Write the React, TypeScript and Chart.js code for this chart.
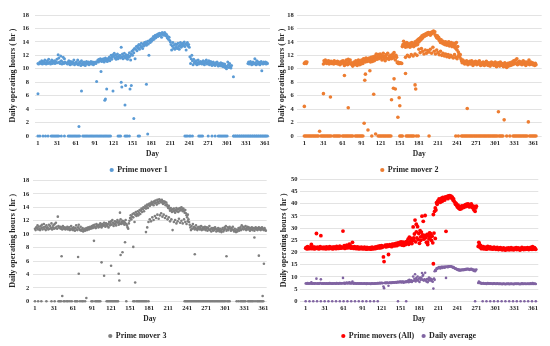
import React, { useEffect, useRef } from "react";
import { Chart, registerables } from "chart.js";

Chart.register(...registerables);

const _ = null;
const FONT = "'Liberation Serif', 'Times New Roman', serif";

const dayTicks = [1, 31, 61, 91, 121, 151, 181, 211, 241, 271, 301, 331, 361];
const yTitle = "Daily operating hours ( hr )";
const xTitle = "Day";

// ---------- Prime mover 1 (day 1..365) ----------
const pm1Hours = [
  10.8, 10.7, _, 11.0, 10.9, 10.8, 11.2, 10.7, 10.9, 11.1,
  10.8, 11.3, 10.9, 10.7, 11.0, 11.2, 10.8, 11.4, 10.9, 11.0,
  10.7, 11.1, 11.3, 10.8, 11.0, 10.9, 11.2, 10.8, 11.1, 10.9,
  11.4, 10.9, 12.1, 11.6, 11.0, 10.8, 11.9, 11.2, 10.7, 11.0,
  11.7, 10.8, 11.5, 11.0, 10.9, _, 10.8, 10.7, 11.0, 11.2,
  10.9, 10.6, 11.1, 10.8, 10.7, 11.0, 10.9, 11.3, 10.6, 10.8,
  10.9, 11.0, 10.7, 11.3, 10.6, 10.8, 11.0, 10.9, 10.5, 11.2,
  10.7, 10.9, 10.6, 11.0, 10.8, 10.5, 10.9, 11.1, 10.7, 10.8,
  11.0, 10.6, 10.9, 10.8, 11.1, 10.7, 10.9, 11.0, 10.6, 10.8,
  10.9, 11.0, 10.8, _, 11.1, 11.3, 11.0, 11.4, 11.2, 11.5,
  11.3, 11.1, 11.4, 11.2, 11.5, 11.0, 11.3, 11.6, 11.2, 11.4,
  11.1, 11.5, 11.3, 11.7, 11.2, 11.6, 12.0, 11.4, 11.8, 12.1,
  11.9, 12.3, 11.6, 12.0, 11.4, 11.8, 12.2, 11.5, 11.9, 11.7,
  12.0, 11.6, 13.2, 11.8, 12.2, 11.5, 11.9, 12.3, 11.7, 11.6,
  12.1, 11.8, 11.4, 12.0, 11.7, 12.4, 11.9, 11.3, 12.2, 12.6,
  12.0, 12.8, 12.4, 13.0, 11.5, 12.9, 13.3, 12.7, 13.4, 13.1,
  13.6, 12.9, 13.5, 13.2, 13.8, 13.3, 13.0, 13.7, 13.4, 13.9,
  13.6, 14.0, 13.5, 13.8, 14.1, 13.7, 12.0, 14.2, 13.9, 14.4,
  14.1, 14.5, 14.3, 14.8, 14.4, 14.7, 15.0, 14.6, 14.9, 15.1,
  14.8, 15.2, 14.9, 15.3, 15.0, 15.2, 14.7, 15.4, 15.1, 15.3,
  15.0, 15.4, 15.2, 14.9, 15.1, 14.6, 14.8, 14.4, 14.7, 14.2,
  14.0, 13.6, 12.8, 13.4, 13.9, 13.1, 13.5, 12.9, 13.7, 13.2,
  13.6, 13.0, 13.8, 13.3, 12.9, 13.5, 13.9, 13.2, 13.7, 13.4,
  13.8, 13.5, 14.0, 13.3, 13.7, 12.8, 13.6, 13.9, 13.4, 13.6,
  13.2, 11.8, 10.8, 11.5, 12.0, 11.2, 10.6, 11.4, 10.9, 11.1,
  10.8, 11.2, 10.6, 10.9, 11.3, 10.7, 11.0, 10.8, 11.1, 10.9,
  10.7, 11.0, 11.2, 10.8, 10.6, 11.1, 10.9, 11.3, 10.7, 11.0,
  10.8, 11.2, 10.6, 10.9, 11.1, 10.7, 10.5, 10.9, 11.0, 10.6,
  10.8, 10.5, 10.9, 10.7, 11.0, 10.6, 10.4, 10.8, 10.5, 10.7,
  10.9, 10.4, 10.6, 10.8, 10.3, 10.5, 10.7, 10.2, 10.4, 10.0,
  10.3, 11.0, 10.6, 10.2, 10.8, 10.4, 10.1, 10.5, _, _,
  _, _, _, _, _, _, _, _, _, _,
  _, _, _, _, _, _, _, _, _, _,
  _, _, _, 10.8, 11.0, 10.7, 10.9, 11.1, 10.8, 10.6,
  10.9, 11.0, 10.7, 10.8, 11.5, 10.9, 10.6, 11.2, 10.8, 10.7,
  11.0, 10.9, 10.6, 10.8, 11.1, 9.7, 10.8, 10.7, 11.0, 10.9,
  10.8, 11.0, 10.7, 10.9, 10.8,
];
const pm1OutlierDays = [1, 66, 70, 94, 101, 107, 108, 110, 120, 133, 134, 139, 140, 147, 149, 153, 173, 175, 311];
const pm1OutlierHours = [6.3, 1.4, 6.7, 8.1, 9.6, 5.3, 5.5, 7.0, 6.7, 8.0, 7.3, 4.6, 7.5, 7.0, 7.5, 2.6, 7.7, 0.3, 8.8];
const pm1ZeroDays = [
  1, 4, 9, 13, 17, 22, 24, 26, 28, 30, 32, 34, 38, 43, 49, 51, 53, 55, 57, 59, 61, 63, 65, 67,
  72, 74, 76, 78, 80, 82, 84, 86, 88, 90, 92, 94, 96, 98, 100, 102, 104, 106, 108, 110, 112, 114, 116,
  128, 130, 132, 139, 141, 143, 146, 160, 162, 234, 236, 238, 241, 243, 246, 256, 258, 260, 262,
  271, 277, 282, 287, 289, 291, 293, 295, 297, 299, 301,
  311, 312, 314, 315, 317, 318, 320, 321, 323, 324, 326, 327, 329, 330, 332, 333, 335, 336, 338, 339,
  341, 342, 344, 345, 347, 348, 350, 351, 353, 354, 356, 357, 359, 360, 362, 363, 365,
];

// ---------- Prime mover 2 ----------
const pm2Hours = [
  10.8, 10.9, 11.0, 10.8, 11.0, _, _, _, _, _,
  _, _, _, _, _, _, _, _, _, _,
  _, _, _, _, _, _, _, _, _, _,
  10.7, 11.2, 10.9, 11.3, 11.0, 10.8, 11.1, 10.9, 11.2, 10.7,
  11.0, 10.9, 11.1, 10.8, 11.0, 10.9, 10.7, 11.2, 10.8, 11.0,
  10.9, 10.8, 11.1, 10.7, 11.0, 10.9, 10.6, 11.0, 10.8, 11.1,
  10.9, 11.2, 10.8, 10.5, 11.0, 10.7, 11.3, 10.9, 10.6, 11.4,
  11.0, 10.8, 11.3, 10.7, 10.9, 10.6, 10.4, 10.8, 11.0, 10.6,
  10.9, 11.2, 10.7, 10.5, 11.0, 11.3, 10.8, 10.6, 11.0, 10.7,
  11.3, 11.0, 10.8, 11.5, 11.2, 11.4, 11.0, 11.6, 11.3, 11.1,
  11.5, 11.2, 11.6, 11.3, 11.0, 11.7, 11.4, 11.1, 11.8, 11.5,
  11.2, 11.9, 11.6, 12.2, 11.4, 11.8, 12.1, 11.5, 11.9, 12.2,
  11.6, 12.0, 11.3, 11.8, 12.3, 11.5, 11.9, 11.2, 11.7, 12.1,
  11.5, 12.3, 11.6, 11.4, 11.9, 11.7, 12.0, 11.5, 11.8, 12.2,
  11.6, 12.4, 11.9, 11.3, 12.0, 11.7, 10.9, 11.0, 10.8, 10.9,
  10.8, 10.9, _, 10.8, 13.3, 13.6, 14.1, 13.4, 13.8, 13.2,
  13.5, 13.9, 13.3, 13.7, 13.4, 13.6, 13.2, 13.8, 13.5, 13.9,
  13.4, 13.7, 13.3, 13.6, 14.0, 13.5, 13.8, 14.2, 13.6, 14.4,
  14.0, 14.5, 14.2, 14.7, 14.4, 14.9, 14.6, 15.0, 14.8, 15.1,
  14.9, 15.2, 15.0, 15.3, 15.1, 15.4, 15.2, 15.3, 15.0, 15.4,
  15.2, 15.5, 15.3, 15.6, 15.4, 15.5, 15.0, 14.8, 14.6, 14.9,
  14.5, 14.7, 14.2, 14.4, 13.9, 14.3, 14.0, 13.8, 14.1, 13.7,
  13.9, 13.6, 14.0, 13.7, 13.5, 13.9, 13.6, 14.0, 13.4, 13.8,
  13.5, 13.9, 13.3, 13.7, 13.4, 13.8, 13.2, 13.6, 13.0, 13.9,
  12.8, 13.3, 12.5, 12.2, 11.8, 12.1, 11.5, 11.2, 10.9, 11.3,
  10.9, 11.1, 10.7, 11.0, 10.8, 11.2, 10.9, 10.6, 11.0, 10.8,
  11.1, 10.7, 10.9, 11.2, 10.8, 10.5, 11.0, 10.7, 10.9, 11.1,
  10.8, 10.6, 11.0, 10.7, 10.9, 11.2, 10.8, 10.5, 10.7, 10.9,
  10.6, 11.0, 10.8, 10.5, 10.9, 10.7, 11.1, 10.6, 10.8, 10.5,
  10.9, 10.7, 10.4, 10.8, 11.0, 10.6, 10.9, 10.7, 10.5, 10.8,
  11.0, 10.6, 10.3, 10.8, 10.5, 10.9, 10.7, 10.4, 11.0, 10.6,
  10.8, 10.5, 10.7, 10.3, 10.6, 10.9, 10.4, 10.7, 10.2, 10.5,
  10.8, 10.4, 10.6, 10.9, 10.5, 10.7, 11.0, 10.6, 10.8, 11.2,
  10.7, 10.9, 11.3, 10.8, 11.5, 10.6, 11.0, 10.8, 11.1, 10.7,
  10.9, 11.0, 10.6, 10.8, 11.2, 10.7, 10.9, 11.0, 10.5, 10.8,
  11.0, 10.7, 10.9, 11.3, 10.6, 10.8, 11.0, 10.7, 10.9, 10.6,
  10.8, 10.7, 10.5, 10.8, 10.6,
];
const pm2LowerDays = [160, 163, 166, 169, 172, 175, 178, 181, 183, 185, 187, 189, 191, 193, 195, 197, 199, 201, 203, 205, 207, 209, 211, 213, 215, 217, 219, 221, 223, 225, 227, 229, 231, 233, 235, 237, 239, 241, 243];
const pm2LowerHours = [11.7, 12.0, 11.8, 12.1, 11.9, 12.2, 12.0, 12.9, 12.4, 13.0, 12.6, 12.2, 12.8, 12.3, 12.7, 12.5, 12.9, 12.3, 13.2, 12.6, 12.2, 12.8, 12.4, 12.1, 12.6, 12.0, 12.3, 11.9, 12.2, 11.8, 12.1, 11.7, 12.0, 11.8, 11.6, 12.1, 11.7, 11.5, 11.9];
const pm2OutlierDays = [1, 25, 31, 42, 64, 70, 95, 96, 97, 101, 104, 110, 113, 138, 141, 142, 144, 148, 150, 151, 160, 175, 176, 257, 306, 315, 353];
const pm2OutlierHours = [4.4, 0.7, 6.3, 5.8, 9.0, 4.2, 1.9, 8.3, 9.2, 0.9, 9.7, 6.2, 0.3, 5.4, 7.1, 8.5, 7.0, 2.8, 5.7, 4.5, 9.3, 7.6, 7.0, 4.1, 3.6, 2.4, 2.1];
const pm2ZeroDays = [
  1, 3, 5, 7, 9, 11, 13, 15, 17, 19, 21, 23, 27, 29, 31, 33, 35, 37, 39, 41, 43, 47, 49, 51, 53, 55, 57,
  61, 63, 65, 67, 69, 71, 73, 75, 77, 81, 83, 85, 87, 89, 91, 93, 107,
  117, 119, 121, 123, 125, 127, 129, 131, 133, 135, 137, 151, 153, 155,
  161, 163, 165, 167, 169, 171, 173, 177, 180, 197, 239, 243,
  248, 250, 252, 254, 256, 258, 260, 262, 264, 266, 268, 270, 272, 274, 276, 278, 280, 282, 284, 286,
  288, 290, 292, 294, 296, 298, 300, 302, 304, 307, 309, 311, 313, 319, 324,
  329, 331, 333, 335, 337, 339, 341, 343, 345, 347, 349, 351, 355, 357, 359, 361, 363, 365,
];

// ---------- Prime mover 3 ----------
const pm3Hours = [
  10.8, 10.6, 11.0, 10.9, 11.3, 10.7, 11.1, 10.8, 10.6, 11.2,
  10.9, 11.4, 10.7, 11.0, 11.5, 10.8, 11.1, 10.6, 11.3, 10.9,
  11.0, 10.7, 11.4, 10.8, 11.2, 10.9, 11.6, 10.7, 11.0, 11.3,
  10.8, 11.5, 10.9, 11.7, 11.1, 10.8, 12.6, 11.2, 11.0, 10.9,
  11.1, 10.8, 11.0, 10.7, 11.2, 10.9, 10.8, 11.0, 10.7, 10.9,
  10.8, 11.1, 10.7, 10.9, 11.0, 10.6, 10.8, 11.2, 10.7, 10.9,
  10.6, 11.0, 10.8, 10.5, 10.9, 11.3, 10.7, 10.6, 11.0, 11.4,
  10.8, 10.6, 11.1, 10.5, 10.7, 10.9, 10.4, 10.6, 10.8, 10.5,
  10.7, 10.9, 10.6, 10.8, 11.0, 10.7, 10.9, 11.1, 10.8, 11.0,
  11.2, 10.9, 11.3, 11.0, 11.4, 11.1, 10.9, 11.5, 11.2, 11.3,
  11.0, 11.4, 11.1, 11.6, 11.3, 11.0, 11.5, 11.2, 11.4, 11.7,
  11.3, 11.1, 11.6, 11.4, 11.2, 11.5, 11.0, 11.8, 11.3, 11.6,
  11.9, 11.4, 12.1, 11.7, 11.2, 11.5, 11.9, 11.6, 11.3, 11.8,
  12.1, 11.7, 11.4, 11.9, 11.6, 12.2, 11.5, 11.8, 12.0, 11.6,
  11.9, 11.4, 11.7, 12.1, 11.5, 11.3, 11.0, 10.8, 11.6, 12.0,
  12.4, 12.8, 12.2, 12.6, 13.0, 12.5, 13.1, 11.8, 12.9, 13.3,
  12.7, 13.0, 13.4, 12.8, 13.2, 13.6, 13.0, 13.5, 13.8, 13.3,
  13.7, 14.0, 13.4, 13.9, 14.2, 13.8, 14.1, 14.4, 13.9, 14.3,
  14.5, 14.2, 14.6, 14.4, 14.8, 14.5, 14.7, 14.3, 14.9, 14.6,
  15.0, 14.7, 14.4, 15.1, 14.8, 14.6, 15.2, 14.9, 15.0, 14.7,
  15.1, 14.8, 14.5, 14.9, 14.6, 14.8, 14.3, 14.7, 14.4, 14.1,
  13.9, 14.2, 13.8, 13.5, 13.9, 13.6, 13.3, 13.7, 13.4, 13.8,
  13.5, 13.2, 13.6, 13.9, 13.4, 13.7, 13.3, 13.8, 13.5, 13.9,
  13.6, 14.0, 13.7, 13.4, 13.8, 13.5, 13.2, 13.6, 13.1, 12.8,
  12.5, 12.9, 12.2, 11.8, 11.4, 11.0, 10.6, 11.2, 10.8, 11.5,
  10.9, 11.1, 10.7, 10.9, 11.3, 10.8, 10.6, 11.0, 10.8, 11.1,
  10.7, 10.9, 11.2, 10.6, 10.8, 11.0, 10.7, 10.9, 11.1, 10.6,
  10.8, 11.0, 10.5, 10.9, 10.7, 11.2, 10.6, 10.8, 10.4, 10.9,
  10.7, 10.5, 10.9, 10.6, 11.0, 10.8, 10.4, 10.7, 10.5, 10.9,
  10.6, 10.4, 10.8, 10.5, 10.3, 10.7, 10.9, 10.4, 10.6, 11.0,
  10.8, 11.2, 10.5, 10.7, 11.0, 10.6, 10.9, 11.1, 10.8, 10.5,
  10.9, 10.7, 11.1, 10.6, 10.4, 10.8, 10.5, 10.3, 10.7, 10.4,
  10.6, 10.9, 10.5, 10.8, 11.0, 10.6, 11.3, 10.8, 11.1, 10.7,
  11.0, 10.8, 11.2, 10.6, 10.9, 11.1, 10.7, 11.0, 10.8, 10.5,
  10.9, 10.7, 11.0, 10.6, 10.8, 10.9, 10.5, 10.8, 11.0, 10.7,
  10.9, 10.6, 10.8, 11.0, 10.7, 10.9, 10.6, 10.8, 11.0, 10.7,
  10.8, 10.6, 10.9, 10.7, 10.5,
];
const pm3LowerDays = [176, 178, 180, 182, 184, 186, 188, 190, 192, 194, 196, 198, 200, 202, 204, 206, 208, 210, 212, 214, 216, 218, 220, 222, 224, 226, 228, 230, 232, 234, 236, 238, 240, 242];
const pm3LowerHours = [10.3, 11.0, 11.8, 12.2, 11.9, 12.5, 12.1, 12.7, 12.4, 12.9, 12.3, 12.8, 13.1, 12.6, 12.9, 12.4, 12.7, 12.2, 12.5, 11.9, 12.2, 10.6, 11.8, 12.1, 11.6, 11.9, 12.3, 11.7, 12.0, 11.6, 12.2, 11.8, 11.5, 11.9];
const pm3OutlierDays = [43, 44, 69, 70, 82, 94, 106, 110, 121, 133, 134, 135, 136, 139, 143, 156, 159, 253, 303, 347, 354, 360, 362];
const pm3OutlierHours = [6.7, 0.8, 6.6, 4.1, 0.5, 9.0, 5.8, 3.8, 5.3, 4.1, 3.1, 13.2, 6.9, 7.3, 8.8, 8.1, 2.8, 7.0, 6.7, 9.5, 6.8, 0.8, 5.6];
const pm3ZeroDays = [
  1, 6, 11, 19, 27, 32, 38, 40, 42, 46, 48, 51, 53, 56, 59, 64, 66, 68, 72, 75, 77, 80,
  90, 92, 96, 98, 100, 102, 104, 114, 116, 118, 120, 122, 124, 126, 128, 130, 132, 145,
  156, 158, 161, 163, 165, 167, 169, 171, 173, 175, 177, 180,
  237, 239, 241, 243, 245, 247, 249, 251, 253, 255, 257, 259, 261, 263, 265, 267, 269, 271, 273, 275,
  277, 279, 281, 283, 285, 287, 289, 291, 293, 295, 297, 299, 301, 304, 306, 308,
  319, 322, 325, 327, 329, 331, 333, 337, 339, 341, 343, 345, 348, 351, 353, 355, 357, 359, 361,
];

// ---------- Prime movers (All) and daily average ----------
const allHours = [
  21.8, 22.1, 21.5, 22.4, 21.9, 21.6, 22.2, 21.7, 22.0, 23.3,
  21.6, 22.0, 21.8, 22.3, 21.5, 21.9, 22.1, 27.8, 21.7, 22.2,
  21.8, 21.5, 22.0, 22.4, 26.9, 21.7, 22.1, 21.9, 21.6, 22.2,
  21.8, 22.0, 21.5, 22.3, 21.9, 21.7, 22.1, 21.6, 22.4, 21.8,
  22.0, 21.7, 22.2, 21.5, 21.9, 22.3, 21.8, 22.0, 21.6, 22.5,
  21.9, 22.2, 21.7, 22.0, 22.6, 21.8, 22.3, 21.9, 22.1, 28.8,
  22.0, 22.8, 21.7, 22.4, 22.1, 23.0, 21.9, 22.5, 22.2, 23.4,
  22.0, 22.7, 21.8, 22.3, 24.2, 22.1, 21.7, 22.4, 21.9, 22.2,
  21.6, 22.0, 22.3, 21.8, 21.5, 22.1, 21.9, 21.6, 22.2, 21.7,
  22.0, 21.5, 21.8, 22.2, 21.6, 21.9, 21.4, 22.1, 21.7, 21.5,
  21.9, 21.6, 22.0, 21.4, 21.8, 22.2, 21.5, 21.9, 21.7, 22.1,
  21.6, 22.3, 21.8, 22.0, 22.5, 21.9, 22.2, 22.7, 21.9, 22.4,
  22.8, 22.1, 22.5, 18.2, 16.3, 22.6, 23.0, 22.3, 22.7, 23.1,
  22.5, 19.2, 22.8, 23.2, 22.6, 23.0, 22.4, 23.4, 22.9, 23.3,
  22.7, 23.5, 23.0, 23.8, 22.8, 23.6, 24.0, 23.2, 23.7, 24.2,
  23.5, 24.4, 23.1, 23.9, 24.3, 22.9, 23.6, 24.1, 23.3, 24.5,
  23.8, 24.2, 25.5, 23.4, 26.3, 24.0, 24.6, 25.8, 23.7, 24.9,
  30.5, 25.2, 27.6, 33.3, 24.4, 28.5, 26.0, 30.6, 25.3, 27.8,
  23.8, 29.0, 26.4, 28.4, 34.9, 26.5, 32.8, 25.5, 27.0, 35.2,
  26.1, 24.2, 27.4, 23.3, 26.8, 25.6, 28.1, 26.2, 27.5, 25.0,
  26.7, 24.0, 35.6, 28.0, 36.9, 38.3, 37.5, 40.5, 39.8, 41.2,
  40.8, 42.0, 41.4, 40.6, 41.9, 42.3, 41.0, 42.6, 41.8, 42.2,
  41.5, 42.8, 28.7, 42.4, 43.0, 42.1, 43.2, 42.6, 43.3, 42.9,
  43.1, 42.3, 42.7, 41.5, 42.0, 41.0, 40.6, 39.8, 40.2, 39.3,
  38.7, 39.4, 38.2, 38.9, 37.8, 38.6, 38.0, 39.1, 38.4, 39.0,
  38.5, 39.3, 38.8, 39.6, 38.9, 39.8, 39.2, 40.0, 39.4, 38.7,
  39.5, 38.9, 39.9, 39.2, 38.4, 39.0, 37.6, 38.8, 36.9, 38.3,
  39.0, _, _, 22.5, 24.2, 23.4, 22.1, 22.8, 21.6, 22.3,
  21.8, 22.4, 21.5, 22.0, 21.7, 22.2, 21.4, 21.9, 22.5, 21.6,
  22.1, 21.7, 22.3, 21.5, 21.9, 22.0, 21.4, 21.8, 22.2, 21.6,
  21.9, 21.3, 21.7, 22.1, 21.5, 21.2, 21.8, 21.4, 22.0, 21.3,
  21.7, 21.1, 21.5, 21.9, 21.2, 21.6, 21.0, 21.4, 21.8, 21.2,
  21.5, 21.9, 21.1, 21.6, 21.3, 22.0, 21.2, 21.7, 21.4, 21.1,
  21.8, 21.3, 21.6, 22.0, 21.2, 21.5, 21.9, 21.3, 21.7, 21.0,
  21.6, 21.3, 22.1, 21.4, 21.8, 21.2, 21.6, 21.9, 21.3, 21.7,
  21.4, 22.0, 21.5, 21.2, 21.8, 21.4, 22.1, 21.6, 21.3, 22.4,
  21.8, 21.4, 22.0, 21.6, 21.3,
];
const allExtraDays = [172, 176, 183, 186, 194, 198, 203, 206];
const allExtraHours = [26.0, 31.6, 25.0, 27.2, 24.3, 27.9, 15.4, 25.8];

const avgHours = [
  7.3, 7.4, 7.2, 7.5, 7.3, 7.2, 7.4, 7.3, 7.3, 7.8,
  7.2, 7.3, 7.3, 7.4, 7.2, 7.3, 7.4, 9.3, 7.2, 7.4,
  7.3, 7.2, 7.3, 7.5, 9.0, 7.2, 7.4, 7.3, 7.2, 7.4,
  7.3, 7.3, 7.2, 7.4, 7.3, 7.2, 7.4, 7.2, 7.5, 7.3,
  7.3, 7.2, 7.4, 7.2, 7.3, 7.4, 7.3, 7.3, 7.2, 7.5,
  7.3, 7.4, 7.2, 7.3, 7.5, 7.3, 7.4, 7.3, 7.4, 9.6,
  7.3, 7.6, 7.2, 7.5, 7.4, 7.7, 7.3, 7.5, 7.4, 7.8,
  7.3, 7.6, 7.3, 7.4, 8.1, 7.4, 7.2, 7.5, 7.3, 7.4,
  7.2, 7.3, 7.4, 7.3, 7.2, 7.4, 7.3, 7.2, 7.4, 7.2,
  7.3, 7.2, 7.3, 7.4, 7.2, 7.3, 7.1, 7.4, 7.2, 7.2,
  7.3, 7.2, 7.3, 7.1, 7.3, 7.4, 7.2, 7.3, 7.2, 7.4,
  7.2, 7.4, 7.3, 7.3, 7.5, 7.3, 7.4, 7.6, 7.3, 7.5,
  7.6, 7.4, 7.5, 6.1, 5.4, 7.5, 7.7, 7.4, 7.6, 7.7,
  7.5, 6.4, 7.6, 7.7, 7.5, 7.7, 7.5, 7.8, 7.6, 7.8,
  7.6, 7.8, 7.7, 7.9, 7.6, 7.9, 8.0, 7.7, 7.9, 8.1,
  7.8, 8.1, 7.7, 8.0, 8.1, 7.6, 7.9, 8.0, 7.8, 8.2,
  7.9, 8.1, 8.5, 7.8, 8.8, 8.0, 8.2, 8.6, 7.9, 8.3,
  10.2, 8.4, 9.2, 11.1, 8.1, 9.5, 8.7, 10.2, 8.4, 9.3,
  7.9, 9.7, 8.8, 9.5, 11.6, 8.8, 10.9, 8.5, 9.0, 11.7,
  8.7, 8.1, 9.1, 7.8, 8.9, 8.5, 9.4, 8.7, 9.2, 8.3,
  8.9, 8.0, 5.2, 9.3, 12.3, 12.8, 12.5, 13.5, 13.3, 13.7,
  13.6, 14.0, 13.8, 13.5, 14.0, 14.1, 13.7, 14.2, 13.9, 14.1,
  13.8, 14.3, 9.6, 14.1, 14.3, 14.0, 14.4, 14.2, 14.4, 14.3,
  14.4, 14.1, 14.2, 13.8, 14.0, 13.7, 13.5, 13.3, 13.4, 13.1,
  12.9, 13.1, 12.7, 13.0, 12.6, 12.9, 12.7, 13.0, 12.8, 13.0,
  12.8, 13.1, 12.9, 13.2, 13.0, 13.3, 13.1, 13.3, 13.1, 12.9,
  13.2, 13.0, 13.3, 13.1, 12.8, 13.0, 12.5, 12.9, 12.3, 12.8,
  13.0, _, _, 7.5, 8.1, 7.8, 7.4, 7.6, 7.2, 7.4,
  7.3, 7.5, 7.2, 7.3, 7.2, 7.4, 7.1, 7.3, 7.5, 7.2,
  7.4, 7.2, 7.4, 7.2, 7.3, 7.3, 7.1, 7.3, 7.4, 7.2,
  7.3, 7.1, 7.2, 7.4, 7.2, 7.1, 7.3, 7.1, 7.3, 7.1,
  7.2, 7.0, 7.2, 7.3, 7.1, 7.2, 7.0, 7.1, 7.3, 7.1,
  7.2, 7.3, 7.0, 7.2, 7.1, 7.3, 7.1, 7.2, 7.1, 7.0,
  7.3, 7.1, 7.2, 7.3, 7.1, 7.2, 7.3, 7.1, 7.2, 7.0,
  7.2, 7.1, 7.4, 7.1, 7.3, 7.1, 7.2, 7.3, 7.1, 7.2,
  7.1, 7.3, 7.2, 7.1, 7.3, 7.1, 7.4, 7.2, 7.1, 7.5,
  7.3, 7.1, 7.3, 7.2, 7.1,
];
const avgExtraDays = [174, 186, 196, 205];
const avgExtraHours = [8.6, 10.4, 9.7, 8.8];
const avgZeroDays = [1, 7, 13, 19, 25, 31, 37, 43, 49, 55, 61, 67, 73, 79, 85, 91, 97, 103, 109, 115, 147, 160, 269, 281, 287, 293, 299, 305, 311, 317, 323, 329, 335, 341, 347, 353, 359, 365];

// ---------- helpers ----------
type Pt = { x: number; y: number };
const dailyPoints = (values: (number | null)[]): Pt[] => {
  const out: Pt[] = [];
  values.forEach((v, i) => {
    if (v !== null && v !== undefined) out.push({ x: i + 1, y: v });
  });
  return out;
};
const pairPoints = (days: number[], hours: number[]): Pt[] => days.map((d, i) => ({ x: d, y: hours[i] }));
const zeroPoints = (days: number[]): Pt[] => days.map((d) => ({ x: d, y: 0 }));

const series = (label: string, color: string, radius: number, points: Pt[], style = "circle") => ({
  label,
  data: points,
  backgroundColor: color,
  borderColor: color,
  pointRadius: radius,
  pointBorderWidth: 0,
  pointStyle: style,
  borderWidth: 0,
  showLine: false,
  clip: false as any,
});

type PanelSpec = {
  left: number;
  top: number;
  width: number;
  height: number;
  padding: { left: number; right: number; top: number; bottom: number };
  yW: number;
  xH: number;
  dayPad: number;
  legendPad: number;
  xMin: number;
  xMax: number;
  yMax: number;
  yStep: number;
  yTickPad: number;
  datasets: any[];
};

const panels: PanelSpec[] = [
  {
    left: 0, top: 0, width: 275, height: 190,
    padding: { left: 8, right: 5, top: 15, bottom: 6 },
    yW: 27, xH: 26, dayPad: 3.5, legendPad: 4, xMin: -3.7, xMax: 369, yMax: 18, yStep: 2, yTickPad: 6,
    datasets: [
      series("Prime mover 1", "#5B9BD5", 1.5, [
        ...dailyPoints(pm1Hours),
        ...pairPoints(pm1OutlierDays, pm1OutlierHours),
        ...zeroPoints(pm1ZeroDays),
      ]),
    ],
  },
  {
    left: 275, top: 0, width: 275, height: 190,
    padding: { left: 2.5, right: 8.3, top: 15, bottom: 6 },
    yW: 19.2, xH: 26, dayPad: 3.5, legendPad: 4, xMin: -11, xMax: 374, yMax: 18, yStep: 2, yTickPad: 3,
    datasets: [
      series("Prime mover 2", "#ED7D31", 1.8, [
        ...dailyPoints(pm2Hours),
        ...pairPoints(pm2LowerDays, pm2LowerHours),
        ...pairPoints(pm2OutlierDays, pm2OutlierHours),
        ...zeroPoints(pm2ZeroDays),
      ]),
    ],
  },
  {
    left: 0, top: 173, width: 275, height: 185,
    padding: { left: 8.5, right: 8.3, top: 7.3, bottom: 8 },
    yW: 24.2, xH: 26.7, dayPad: 4.5, legendPad: 4, xMin: -2.6, xMax: 366.4, yMax: 18, yStep: 2, yTickPad: 3.5,
    datasets: [
      series("Prime mover 3", "#7F7F7F", 1.3, [
        ...dailyPoints(pm3Hours),
        ...pairPoints(pm3LowerDays, pm3LowerHours),
        ...pairPoints(pm3OutlierDays, pm3OutlierHours),
        ...zeroPoints(pm3ZeroDays),
      ]),
    ],
  },
  {
    left: 275, top: 173, width: 275, height: 185,
    padding: { left: 4.5, right: 11.7, top: 6.3, bottom: 8 },
    yW: 20.5, xH: 22.7, dayPad: 0.5, legendPad: 8, xMin: -8, xMax: 369, yMax: 50, yStep: 5, yTickPad: 2.5,
    datasets: [
      series("Prime movers (All)", "#FF0000", 1.9, [
        ...dailyPoints(allHours),
        ...pairPoints(allExtraDays, allExtraHours),
      ]),
      series("Daily average", "#8064A2", 1.3, [
        ...dailyPoints(avgHours),
        ...pairPoints(avgExtraDays, avgExtraHours),
        ...zeroPoints(avgZeroDays),
      ]),
    ],
  },
];

const TEXT = "#262626";

function Panel({ spec }: { spec: PanelSpec }) {
  const ref = useRef<HTMLCanvasElement>(null);
  useEffect(() => {
    if (!ref.current) return;
    const chart = new Chart(ref.current, {
      type: "scatter",
      data: { datasets: spec.datasets },
      options: {
        responsive: false,
        animation: false,
        events: [],
        layout: { padding: spec.padding },
        plugins: {
          legend: {
            position: "bottom",
            labels: {
              usePointStyle: true,
              boxWidth: 3,
              boxHeight: 3,
              padding: spec.legendPad,
              color: TEXT,
              font: { family: FONT, size: 8, weight: "bold" },
            },
          },
          tooltip: { enabled: false },
        },
        scales: {
          x: {
            type: "linear",
            min: spec.xMin,
            max: spec.xMax,
            afterBuildTicks: (s: any) => {
              s.ticks = dayTicks.map((v) => ({ value: v }));
            },
            afterFit: (s: any) => {
              s.height = spec.xH;
            },
            grid: { display: false, drawTicks: false },
            border: { display: false },
            ticks: {
              autoSkip: false,
              maxRotation: 0,
              padding: 3,
              color: TEXT,
              font: { family: FONT, size: 6.5, weight: "bold" },
            },
            title: {
              display: true,
              text: xTitle,
              padding: { top: 0, bottom: spec.dayPad },
              color: TEXT,
              font: { family: FONT, size: 7.5, weight: "bold" },
            },
          },
          y: {
            min: 0,
            max: spec.yMax,
            afterFit: (s: any) => {
              s.width = spec.yW;
            },
            grid: { color: "#D9D9D9", lineWidth: 0.75, drawTicks: false },
            border: { display: false },
            ticks: {
              stepSize: spec.yStep,
              padding: spec.yTickPad,
              color: TEXT,
              font: { family: FONT, size: 6.5, weight: "bold" },
            },
            title: {
              display: true,
              text: yTitle,
              padding: { top: 0, bottom: 0 },
              color: TEXT,
              font: { family: FONT, size: 8, weight: "bold" },
            },
          },
        },
      } as any,
    });
    return () => chart.destroy();
  }, [spec]);
  return (
    <canvas
      ref={ref}
      width={spec.width}
      height={spec.height}
      style={{ position: "absolute", left: spec.left, top: spec.top, width: spec.width, height: spec.height }}
    />
  );
}

export default function App() {
  return (
    <div
      style={{
        position: "fixed",
        left: 0,
        top: 0,
        width: 550,
        height: 346,
        overflow: "hidden",
        background: "#ffffff",
      }}
    >
      {panels.map((p, i) => (
        <Panel key={i} spec={p} />
      ))}
    </div>
  );
}
